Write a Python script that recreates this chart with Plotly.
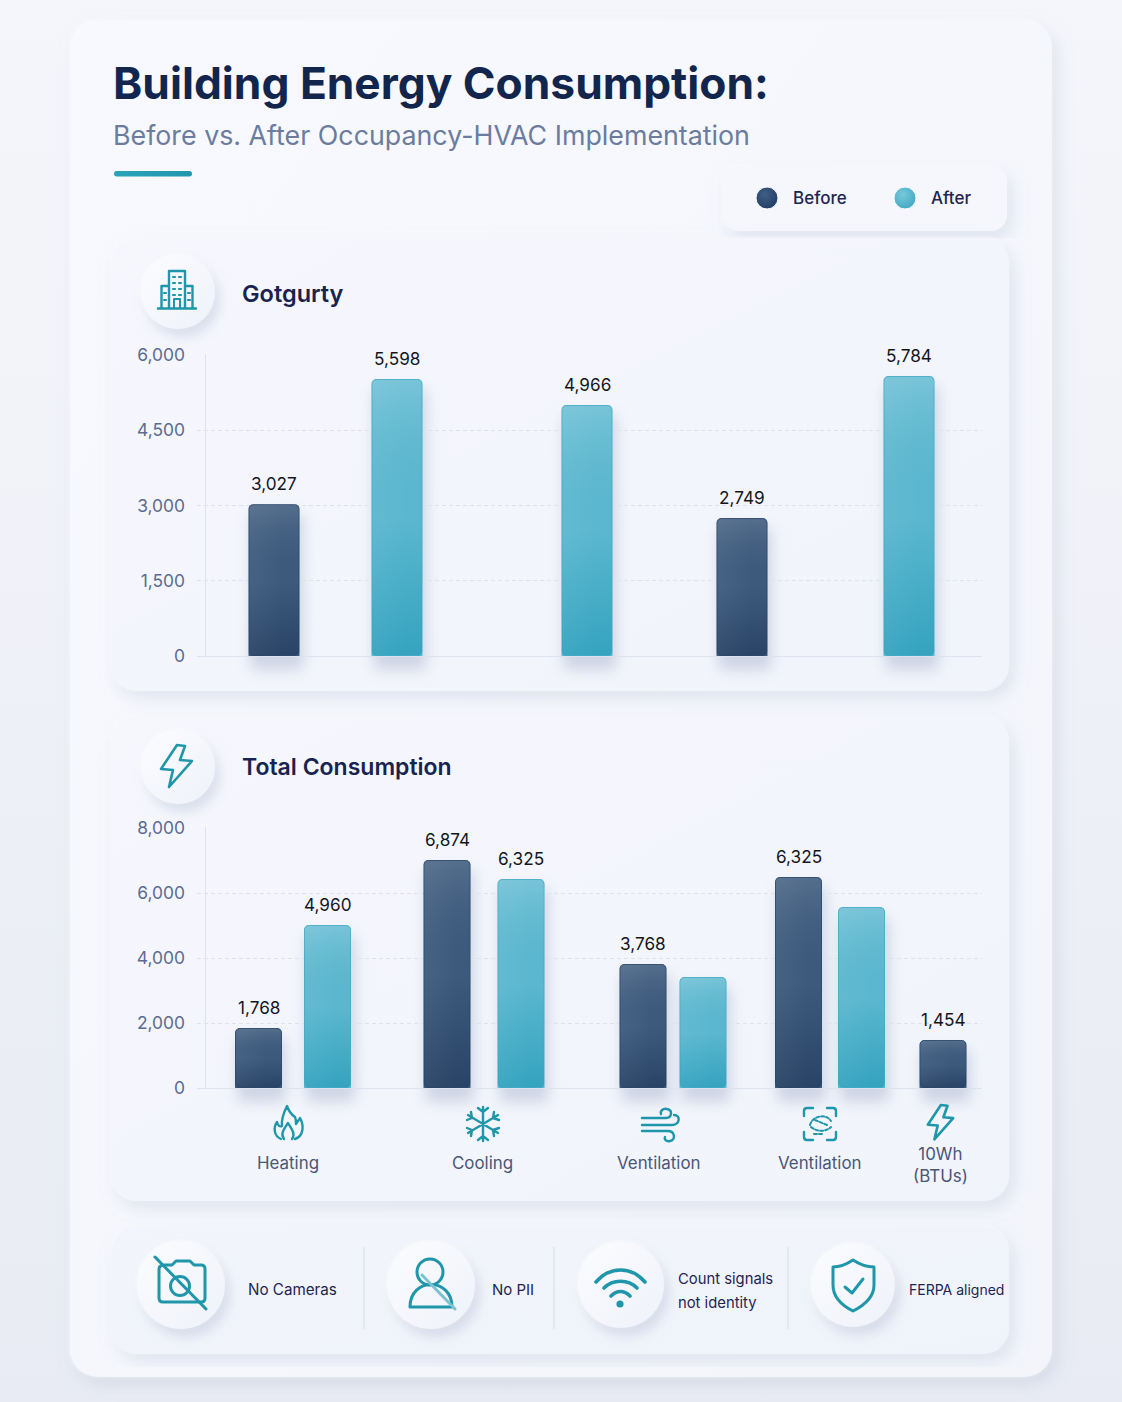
import base64
import plotly.graph_objects as go

W, H = 1122, 1402

# Data
# top panel has no category labels, every slot holds a single bar
top_before_x = [69, 537]
top_before = [3027, 2749]
top_before_labels = ["3,027", "2,749"]
top_after_x = [192, 382, 704]
top_after = [5522, 5003, 5581]
top_after_labels = ["5,598", "4,966", "5,784"]

bottom_before_x = [53.5, 242, 438, 593.5, 738]
bottom_before = [1846, 7015, 3815, 6492, 1477]
bottom_before_labels = ["1,768", "6,874", "3,768", "6,325", "1,454"]
bottom_after_x = [122.5, 316, 498, 656.5]
bottom_after = [5015, 6430, 3415, 5570]
bottom_after_labels = ["4,960", "6,325", "", ""]

group_x = [83, 277, 454, 615, 735]
group_names = ["Heating", "Cooling", "Ventilation", "Ventilation", "10Wh<br>(BTUs)"]

top_ticks = [0, 1500, 3000, 4500, 6000]
bottom_ticks = [0, 2000, 4000, 6000, 8000]

# Pixel frame of the two plots
X0, X1 = 197, 982
TOP_Y0, TOP_Y1, TOP_MAX = 656, 355, 6000
BOT_Y0, BOT_Y1, BOT_MAX = 1088, 828, 8000
TOP_W, BOT_W = 51, 47
NAVY, TEAL = "#3d5a7d", "#5bb7cf"
ICON = "#1f96aa"


def uri(svg):
    return "data:image/svg+xml;base64," + base64.b64encode(svg.encode()).decode()


def card(x, y, w, h, r, fill):
    return (
        f'<rect x="{x}" y="{y}" width="{w}" height="{h}" rx="{r}" fill="#ffffff" filter="url(#hi)"/>'
        f'<rect x="{x}" y="{y}" width="{w}" height="{h}" rx="{r}" fill="{fill}" filter="url(#lo)"/>'
    )


def disc(cx, cy, r):
    return (
        f'<circle cx="{cx}" cy="{cy}" r="{r}" fill="#ffffff" filter="url(#hi)"/>'
        f'<circle cx="{cx}" cy="{cy}" r="{r}" fill="url(#disc)" filter="url(#lo2)"/>'
    )


def bar_shadows(xs, vals, width, y0, y1, vmax):
    out = ""
    for x, v in zip(xs, vals):
        left = x + 205 - width / 2
        top = y0 - v * (y0 - y1) / vmax
        out += (
            f'<rect x="{left + 2}" y="{top + 10}" width="{width + 2}" height="{y0 - top + 4}" rx="5" '
            f'fill="#8494b5" opacity=".33" filter="url(#blur)"/>'
        )
    return out


def bolt(x, y, s):
    # drawn in a 32x43 box
    pts = [(17, 0), (25, 1), (20, 15), (32, 16), (9, 42), (13, 25), (1, 24)]
    d = " ".join(f"{x + a * s:.1f},{y + b * s:.1f}" for a, b in pts)
    return f'<polygon points="{d}" stroke-width="2.6"/>'


icons = f'''
<g fill="none" stroke="{ICON}" stroke-width="2.4" stroke-linecap="round" stroke-linejoin="round">
<path d="M158 308.5H196 M169 308V271H185V308 M161.5 308V286H169 M185 286H192.5V308"/>
<path d="M174 308V299H180V308" stroke-width="2"/>
<path d="M173 277h2 M179 277h2 M173 283h2 M179 283h2 M173 289h2 M179 289h2 M173 295h2 M179 295h2 M164 293h2 M188 293h2 M164 300h2 M188 300h2" stroke-width="2.2"/>
{bolt(160, 745, 1)}
{bolt(927, 1105, 0.82)}
<path d="M281 1139C274 1136 273 1128 277 1122C278 1126 280 1127 282 1126C281 1118 285 1110 287 1106C289 1112 292 1115 295 1117C296 1119 296 1121 296 1124C297 1122 299 1120 300 1118C304 1125 304 1136 295 1139 M284 1139C280 1134 284 1129 288 1123C291 1128 296 1134 292 1139"/>
<path d="M483 1107V1141 M468 1115L498 1133 M468 1133L498 1115 M478 1108L483 1112L488 1108 M478 1140L483 1136L488 1140 M467 1120L472 1118L471 1112 M494 1136L493 1130L499 1128 M467 1128L472 1130L471 1136 M494 1112L493 1118L499 1120"/>
<path d="M642 1118H666C672 1118 673 1110 667 1109C663 1108 660 1111 661 1114 M642 1125H672C680 1125 681 1115 674 1115 M642 1131H668C675 1131 676 1140 670 1141C666 1142 664 1139 665 1137"/>
<path d="M804 1116V1111Q804 1108 807 1108H813 M827 1108H833Q836 1108 836 1111V1116 M804 1132V1137Q804 1140 807 1140H813 M827 1140H833Q836 1140 836 1137V1132"/>
<path d="M810 1125C812 1116 826 1113 831 1121 M811 1127C817 1132 826 1132 831 1127 M815 1120L827 1125 M814 1134H824" stroke-dasharray="3 2" stroke-width="2"/>
<g stroke-width="3">
<path d="M165 1265H172L176 1261H190L194 1265H201Q205 1265 205 1269V1298Q205 1302 201 1302H163Q159 1302 159 1298V1269Q159 1265 165 1265Z"/>
<circle cx="180" cy="1286" r="9.5"/>
<path d="M155 1257L206 1309"/>
<circle cx="430" cy="1272" r="13"/>
<path d="M410 1307C410 1277 452 1277 452 1307Z"/>
<path d="M422 1275L455 1309" stroke="#7cc2d0"/>
<path d="M596 1282C610 1266 631 1266 645 1282 M604 1288C613 1279 628 1279 637 1288 M611 1296C617 1290 624 1290 630 1296" stroke-width="3.6"/>
<path d="M853 1260C847 1264 840 1267 833 1267V1285C833 1298 843 1306 853 1311C863 1306 874 1298 874 1285V1267C866 1267 859 1264 853 1260Z"/>
<path d="M845 1287L852 1293L863 1279"/>
</g></g>
<circle cx="620" cy="1304" r="3.6" fill="{ICON}"/>
'''

bg = f'''<svg xmlns="http://www.w3.org/2000/svg" width="{W}" height="{H}" viewBox="0 0 {W} {H}">
<defs>
<linearGradient id="page" x1="0" y1="0" x2="0" y2="1"><stop offset="0" stop-color="#f5f6fb"/><stop offset="1" stop-color="#e8ebf3"/></linearGradient>
<linearGradient id="outer" x1="0" y1="0" x2="1" y2="1"><stop offset="0" stop-color="#f8f9fe"/><stop offset="1" stop-color="#f3f5fb"/></linearGradient>
<linearGradient id="inner" x1="0" y1="0" x2="1" y2="1"><stop offset="0" stop-color="#f6f7fd"/><stop offset="1" stop-color="#f1f4fb"/></linearGradient>
<linearGradient id="foot" x1="0" y1="0" x2="1" y2="1"><stop offset="0" stop-color="#f2f5fb"/><stop offset="1" stop-color="#eff3fa"/></linearGradient>
<linearGradient id="disc" x1="0" y1="0" x2="1" y2="1"><stop offset="0" stop-color="#fbfcff"/><stop offset="1" stop-color="#eff2f9"/></linearGradient>
<linearGradient id="rule" x1="0" y1="0" x2="1" y2="0"><stop offset="0" stop-color="#2aa3b8"/><stop offset="1" stop-color="#2197ae"/></linearGradient>
<radialGradient id="dotnavy" cx=".4" cy=".35" r=".75"><stop offset="0" stop-color="#3f5f86"/><stop offset="1" stop-color="#1f3a60"/></radialGradient>
<radialGradient id="dotteal" cx=".4" cy=".35" r=".75"><stop offset="0" stop-color="#78c8da"/><stop offset="1" stop-color="#3ca6c0"/></radialGradient>
<filter id="lo" x="-10%" y="-10%" width="120%" height="120%"><feDropShadow dx="5" dy="7" stdDeviation="8" flood-color="#9aa8c4" flood-opacity=".26"/></filter>
<filter id="lo2" x="-40%" y="-40%" width="190%" height="190%"><feDropShadow dx="5" dy="8" stdDeviation="6" flood-color="#8e9dbc" flood-opacity=".28"/></filter>
<filter id="hi" x="-10%" y="-10%" width="120%" height="120%"><feGaussianBlur stdDeviation="2"/></filter>
<filter id="blur" x="-60%" y="-20%" width="220%" height="140%"><feGaussianBlur stdDeviation="7"/></filter>
</defs>
<rect width="{W}" height="{H}" fill="url(#page)"/>
{card(70, 20, 982, 1357, 28, "url(#outer)")}
<rect x="114" y="171" width="78" height="5.5" rx="2.7" fill="url(#rule)"/>
{card(723, 166, 284, 65, 16, "#f5f7fc")}
{card(111, 238, 898, 453, 26, "url(#inner)")}
{card(111, 716, 898, 485, 26, "url(#inner)")}
{card(111, 1226, 898, 128, 26, "url(#foot)")}
{disc(178, 292, 37)}{disc(178, 767, 37)}
{disc(181, 1285, 44)}{disc(431, 1285, 44)}{disc(621, 1285, 43)}{disc(853, 1285, 42)}
<path d="M364 1247V1329 M554 1247V1329 M788 1247V1329" stroke="#d9dfea" stroke-width="1.2"/>
<circle cx="767" cy="198" r="11" fill="url(#dotnavy)" stroke="#fbfcff" stroke-width="1"/>
<circle cx="905" cy="198" r="11" fill="url(#dotteal)" stroke="#fbfcff" stroke-width="1"/>
{bar_shadows(top_before_x, top_before, TOP_W, TOP_Y0, TOP_Y1, TOP_MAX)}
{bar_shadows(top_after_x, top_after, TOP_W, TOP_Y0, TOP_Y1, TOP_MAX)}
{bar_shadows(bottom_before_x, bottom_before, BOT_W, BOT_Y0, BOT_Y1, BOT_MAX)}
{bar_shadows(bottom_after_x, bottom_after, BOT_W, BOT_Y0, BOT_Y1, BOT_MAX)}
{icons}
</svg>'''

images = [dict(source=uri(bg), xref="paper", yref="paper", x=0, y=1, sizex=1, sizey=1,
               xanchor="left", yanchor="top", sizing="stretch", layer="below")]


def sheen(xs, vals, width, xref, yref, px_per_unit, edge, low, low_op, high_op):
    # light-to-dark wash laid over each bar, sized from the bar value
    for x, v in zip(xs, vals):
        h = max(v * px_per_unit, 1)
        svg = (
            f'<svg xmlns="http://www.w3.org/2000/svg" width="{width}" height="{h:.0f}">'
            '<defs><linearGradient id="g" x1="0" y1="0" x2="0" y2="1">'
            f'<stop offset="0" stop-color="#fff" stop-opacity="{high_op}"/>'
            f'<stop offset=".5" stop-color="{low}" stop-opacity="0"/>'
            f'<stop offset="1" stop-color="{low}" stop-opacity="{low_op}"/></linearGradient>'
            '<linearGradient id="s" x1="0" y1="0" x2="1" y2="0">'
            '<stop offset="0" stop-color="#fff" stop-opacity=".05"/>'
            '<stop offset=".7" stop-color="#fff" stop-opacity="0"/></linearGradient></defs>'
            f'<rect x=".5" y=".5" width="{width - 1}" height="{h - 1:.0f}" rx="4.5" fill="url(#g)" '
            f'stroke="{edge}" stroke-opacity=".5"/>'
            f'<rect x="1" y="1" width="{width - 2}" height="{h - 2:.0f}" rx="4" fill="url(#s)"/></svg>'
        )
        images.append(dict(source=uri(svg), xref=xref, yref=yref, x=x - width / 2, y=v,
                           sizex=width, sizey=v, xanchor="left", yanchor="top",
                           sizing="stretch", layer="above"))


top_scale = (TOP_Y0 - TOP_Y1) / TOP_MAX
bot_scale = (BOT_Y0 - BOT_Y1) / BOT_MAX
sheen(top_before_x, top_before, TOP_W, "x", "y", top_scale, "#27405f", "#0c2244", 0.4, 0.12)
sheen(top_after_x, top_after, TOP_W, "x", "y", top_scale, "#3aa5bf", "#1c96b4", 0.6, 0.18)
sheen(bottom_before_x, bottom_before, BOT_W, "x2", "y2", bot_scale, "#27405f", "#0c2244", 0.4, 0.12)
sheen(bottom_after_x, bottom_after, BOT_W, "x2", "y2", bot_scale, "#3aa5bf", "#1c96b4", 0.6, 0.18)

fig = go.Figure()
for xs, vals, color, name, width, xa, ya in [
    (top_before_x, top_before, NAVY, "Before", TOP_W, "x", "y"),
    (top_after_x, top_after, TEAL, "After", TOP_W, "x", "y"),
    (bottom_before_x, bottom_before, NAVY, "Before", BOT_W, "x2", "y2"),
    (bottom_after_x, bottom_after, TEAL, "After", BOT_W, "x2", "y2"),
]:
    fig.add_trace(go.Bar(x=xs, y=vals, name=name, width=width, xaxis=xa, yaxis=ya,
                         marker=dict(color=color, line_width=0, cornerradius=5),
                         showlegend=False, hoverinfo="skip"))


def text(x, y, s, size, color, weight=400, anchor="left"):
    return dict(text=s, x=(x - 2) / W, y=1 - y / H, xref="paper", yref="paper", showarrow=False,
                xanchor=anchor, yanchor="middle", align=anchor,
                font=dict(family="Inter", size=size, color=color, weight=weight))


notes = [
    text(113, 83, "Building Energy Consumption:", 44.3, "#12264d", 700),
    text(113, 135, "Before vs. After Occupancy-HVAC Implementation", 26.8, "#6b7c9e"),
    text(793, 198, "Before", 17, "#1f2550", 500),
    text(931, 198, "After", 17, "#1f2550", 500),
    text(242, 293, "Gotgurty", 23.5, "#18234f", 600),
    text(242, 767, "Total Consumption", 23, "#18234f", 600),
    text(248, 1289, "No Cameras", 15.2, "#1f2550"),
    text(492, 1289, "No PII", 15, "#1f2550"),
    text(678, 1279, "Count signals", 14.8, "#1f2550"),
    text(678, 1303, "not identity", 14.8, "#1f2550"),
    text(909, 1289, "FERPA aligned", 14, "#1f2550"),
]

# value labels sit over the bars, at data coordinates
for xs, vals, labels, xa, ya in [
    (top_before_x, top_before, top_before_labels, "x", "y"),
    (top_after_x, top_after, top_after_labels, "x", "y"),
    (bottom_before_x, bottom_before, bottom_before_labels, "x2", "y2"),
    (bottom_after_x, bottom_after, bottom_after_labels, "x2", "y2"),
]:
    for x, v, label in zip(xs, vals, labels):
        if label:
            notes.append(dict(text=label, x=x, y=v, xref=xa, yref=ya, showarrow=False,
                              yanchor="bottom", yshift=8,
                              font=dict(family="Inter", size=17.2, color="#14161f")))

for x, name in zip(group_x, group_names):
    two_lines = "<br>" in name
    notes.append(dict(text=name, x=x, y=0, xref="x2", yref="y2", showarrow=False,
                      yanchor="top", yshift=-54 if two_lines else -63,
                      font=dict(family="Inter", size=16.9, color="#4a5578")))


def y_axis(ticks, vmax, y0, y1):
    # one pixel of headroom, otherwise the top gridline is dropped
    extra = vmax / (y0 - y1)
    return dict(domain=[1 - y0 / H, 1 - (y1 - 1) / H], range=[0, vmax + extra], tickvals=ticks, tickformat=",",
                tickfont=dict(family="Inter", size=17.4, color="#5b6b92"), ticklabelstandoff=11,
                ticks="", showline=False, showgrid=True, gridcolor="#dde2ee", griddash="4px,3px",
                gridwidth=1, zeroline=True, zerolinecolor="#dde2ee", zerolinewidth=1.2,
                fixedrange=True, automargin=False)


def x_axis():
    return dict(domain=[X0 / W, X1 / W], range=[X0 - 205, X1 - 205], showticklabels=False,
                showgrid=False, ticks="", zeroline=True, zerolinecolor="#dde2ee", zerolinewidth=1.2,
                fixedrange=True, automargin=False)


fig.update_layout(
    width=W, height=H, margin=dict(l=0, r=0, t=0, b=0), autosize=False,
    paper_bgcolor="#f5f6fb", plot_bgcolor="rgba(0,0,0,0)", barmode="overlay", showlegend=False,
    font=dict(family="Inter"),
    xaxis=x_axis(), yaxis=y_axis(top_ticks, TOP_MAX, TOP_Y0, TOP_Y1),
    xaxis2=x_axis() | dict(anchor="y2"),
    yaxis2=y_axis(bottom_ticks, BOT_MAX, BOT_Y0, BOT_Y1) | dict(anchor="x2"),
    annotations=notes, images=images,
)

fig.write_html("out.html", config={"displayModeBar": False},
               post_script="document.body.style.margin='0';")
